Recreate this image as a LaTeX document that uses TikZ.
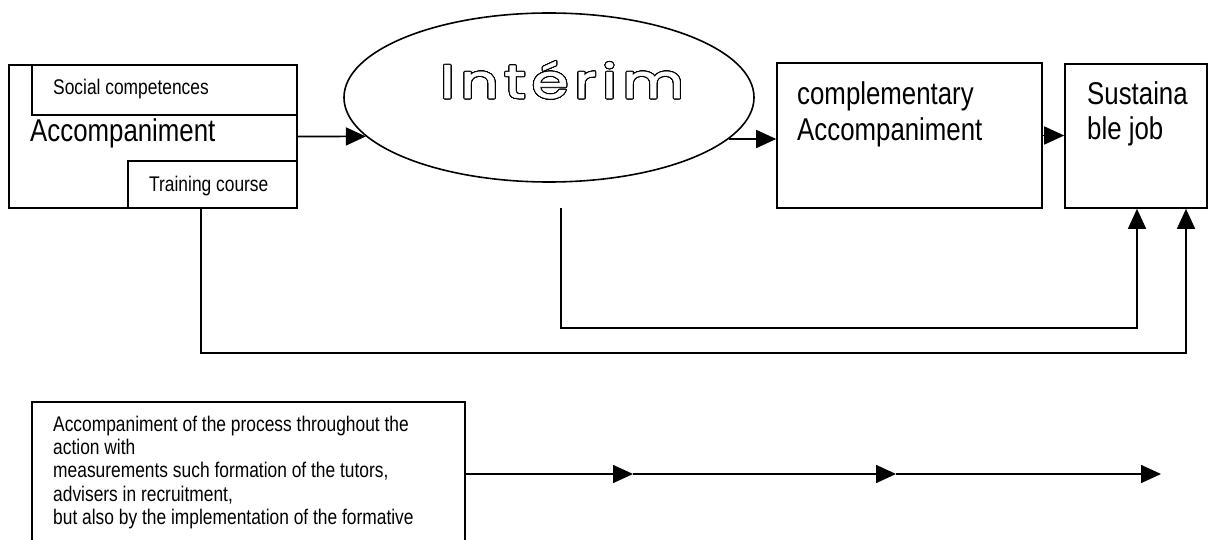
\documentclass[tikz,border=0pt]{standalone}
\usepackage{fontspec}
\setmainfont{Liberation Sans}
\newfontfamily\nar[FakeStretch=0.82]{Liberation Sans}
\newfontfamily\geo[FakeStretch=1.27,LetterSpace=12,FakeBold=1.2]{Poppins}
\usepackage[copies]{contour}
\contourlength{1pt}
\contournumber{32}
\usetikzlibrary{arrows.meta,shapes.geometric}
\begin{document}
\begin{tikzpicture}[x=1pt,y=-1pt,
  box/.style={draw,line width=1.6pt,rectangle,inner sep=0pt},
  lbl/.style={inner sep=0pt,anchor=base west},
  big/.style={font=\nar\fontsize{31.5}{36}\selectfont},
  small/.style={font=\nar\fontsize{21.2}{21.2}\selectfont},
  arr/.style={line width=1.6pt,-{Triangle[length=20pt,width=18pt]}},
  ln/.style={line width=1.6pt}]
\useasboundingbox (0,0) rectangle (1209,540);
% left composite box
\node[box,minimum width=288pt,minimum height=143pt] (acc) at (153,136.5) {};
\node[box,minimum width=265pt,minimum height=50pt] (soc) at (164.5,90) {};
\node[box,minimum width=169pt,minimum height=47pt] (tra) at (212.5,184.5) {};
\node[lbl,big] (accT) at (30,142) {Accompaniment};
\node[lbl,small] (socT) at (53,95) {Social competences};
\node[lbl,small] (traT) at (149,191) {Training course};
% ellipse
\node[draw,ellipse,line width=1.6pt,minimum width=410pt,minimum height=169pt,inner sep=0pt] (ell) at (549,97.5) {};
\node[inner sep=0pt,anchor=base] (ellT) at (562,98) {\geo\fontsize{47}{50}\selectfont\color{white}\contour{black}{Intérim}};
% right boxes
\node[box,minimum width=265pt,minimum height=145pt] (comp) at (909.5,135.5) {};
\node[lbl,big] (compT1) at (797,105) {complementary};
\node[lbl,big] (compT2) at (797,141) {Accompaniment};
\node[box,minimum width=142pt,minimum height=144pt] (sus) at (1136,136) {};
\node[lbl,big] (susT1) at (1087,105) {Sustaina};
\node[lbl,big] (susT2) at (1087,140) {ble job};
% connectors
\draw[arr] (acc.east) -- (ell.192.3);
\draw[arr] (ell.347.7) -- (ell.347.7 -| comp.west);
\draw[arr] (comp.east) -- (comp.east -| sus.west);
\coordinate (c1) at (561,208);
\coordinate (c2) at (201,208);
\draw[arr] (c1) |- (1137,328) -- (sus.south -| 1137,0);
\draw[arr] (c2) |- (1186,353) -- (sus.south -| 1186,0);
% bottom box
\node[box,minimum width=433pt,minimum height=150pt] (proc) at (248.5,477) {};
\node[inner sep=0pt,anchor=north west,align=left,small] (procT) at (53,416)
 {Accompaniment of the process throughout the\\[2pt]action with\\[2pt]measurements such formation of the tutors,\\[2pt]advisers in recruitment,\\[2pt]but also by the implementation of the formative};
\coordinate (a1) at (633,474);
\coordinate (a2) at (896,474);
\coordinate (a3) at (1161,474);
\draw[arr] (proc.east |- a1) -- (a1);
\draw[arr] (a1) -- (a2);
\draw[arr] (a2) -- (a3);
\end{tikzpicture}
\end{document}
